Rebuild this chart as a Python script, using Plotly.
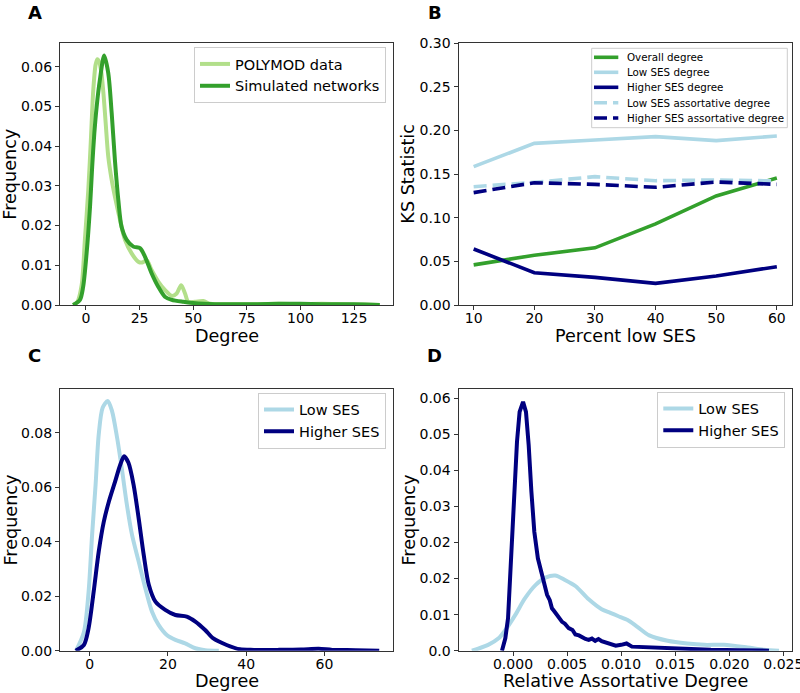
import plotly.graph_objects as go

W, H = 800, 693

# ---------------- Data ----------------
# Panel A: degree distributions (KDE curves)
a_polymod_x = [-6, -4, -2, -0.5, 1.1, 2.3, 3.4, 4.5, 5.3, 6.2, 7.2, 8.2, 9.2, 10.4, 12.0, 13.5, 15.9, 18.2,
               21.3, 24.4, 26.3, 28.3, 30.6, 33.7, 36.8, 40.0, 42.3, 44.4, 46.2, 47.7, 50.8, 54.7, 57.8,
               62, 70, 80, 90, 100, 110, 120, 130, 137]
a_polymod_y = [0, 0.0008, 0.005, 0.0164, 0.029, 0.0416, 0.054, 0.0605, 0.0619, 0.0612, 0.0585, 0.053,
               0.0458, 0.0374, 0.0315, 0.0273, 0.0214, 0.0164, 0.013, 0.0109, 0.0107, 0.0113, 0.0088,
               0.0059, 0.0038, 0.0023, 0.0029, 0.005, 0.0029, 0.0008, 0.0008, 0.001, 0.0003, 0.0002,
               0.0002, 0.0002, 0.0003, 0.0002, 0.0003, 0.0002, 0.0001, 0]
a_sim_x = [-6, -2.8, -1.3, 0.3, 1.9, 2.9, 3.9, 5.0, 6.5, 8.5, 10.4, 12.0, 13.5, 15.1, 16.6, 19.0, 22.1,
           25.2, 27.5, 30.6, 33.7, 36.8, 40, 45.4, 50, 55, 60, 70, 80, 90, 100, 110, 120, 130, 137]
a_sim_y = [0, 0.0013, 0.0046, 0.013, 0.0248, 0.0348, 0.0432, 0.050, 0.0567, 0.0628, 0.0584, 0.0483,
           0.0365, 0.0264, 0.0197, 0.0164, 0.0147, 0.0143, 0.0122, 0.0080, 0.0046, 0.0021, 0.0013,
           0.0008, 0.0005, 0.0003, 0.0002, 0.0002, 0.0002, 0.0003, 0.0003, 0.0002, 0.0002, 0.0001, 0]

# Panel B: KS statistic vs percent low SES
b_pct = [10, 20, 30, 40, 50, 60]
b_overall = [0.046, 0.057, 0.0655, 0.093, 0.125, 0.1455]
b_low = [0.1586, 0.1853, 0.1892, 0.1930, 0.1884, 0.1937]
b_high = [0.0642, 0.037, 0.0317, 0.0248, 0.0332, 0.0439]
b_low_assort = [0.1356, 0.1406, 0.1471, 0.1425, 0.1433, 0.1422]
b_high_assort = [0.1288, 0.1402, 0.1383, 0.1349, 0.141, 0.1383]

# Panel C: degree by SES
c_low_x = [-3.5, -1.5, -0.3, 0.6, 1.5, 2.3, 3.3, 4.6, 5.7, 7.0, 8.3, 9.5, 10.8, 12.5, 14.2, 15.9, 17.6,
           19.7, 21.9, 24.4, 27, 29.5, 33]
c_low_y = [0, 0.0068, 0.0215, 0.0424, 0.061, 0.0794, 0.0892, 0.0917, 0.088, 0.0782, 0.0659, 0.0536,
           0.0426, 0.0328, 0.023, 0.0144, 0.0095, 0.0058, 0.004, 0.0027, 0.0009, 0.0002, 0]
c_high_x = [-3.6, -1.5, -0.3, 1.0, 2.3, 3.6, 4.9, 6.5, 7.8, 8.8, 9.9, 11.2, 12.5, 13.8, 15.1, 16.8, 19.3,
            21.9, 24.8, 27, 29.5, 31.6, 35, 38.4, 42, 48, 54, 58.5, 62, 68, 74]
c_high_y = [0, 0.0021, 0.0082, 0.0216, 0.0364, 0.0474, 0.0548, 0.0622, 0.0683, 0.0714, 0.069, 0.061,
            0.0487, 0.0352, 0.0242, 0.018, 0.015, 0.0131, 0.0125, 0.0107, 0.0076, 0.0045, 0.0021,
            0.0005, 0.0003, 0.0003, 0.0004, 0.0007, 0.0003, 0.0002, 0]

# Panel D: relative assortative degree by SES
d_low_x = [-0.0038, -0.0023, -0.0013, -0.0007, 0.0002, 0.0011, 0.0021, 0.003, 0.0039, 0.0048, 0.0058,
           0.007, 0.0082, 0.009, 0.0097, 0.0106, 0.0115, 0.0126, 0.0143, 0.0161, 0.0177, 0.0195, 0.0217,
           0.0232, 0.0246]
d_low_y = [0, 0.0013, 0.0028, 0.0046, 0.0079, 0.0116, 0.0146, 0.0162, 0.0167, 0.0157, 0.0143, 0.0114,
           0.0092, 0.0084, 0.0077, 0.0068, 0.0053, 0.0034, 0.0022, 0.0016, 0.0013, 0.0013, 0.0007,
           0.0002, 0]
d_high_x = [-0.00102, -0.00071, -0.00046, -0.00031, -0.0001, 0.00015, 0.00037, 0.00061, 0.00093, 0.0012,
            0.00145, 0.0017, 0.00197, 0.0023, 0.00268, 0.00295, 0.00315, 0.0034, 0.0036, 0.0038, 0.00407,
            0.0043, 0.00454, 0.0048, 0.00515, 0.0055, 0.00577, 0.0061, 0.00639, 0.0067, 0.007, 0.0073,
            0.0076, 0.0079, 0.0082, 0.00885, 0.0095, 0.0100, 0.0105, 0.0110, 0.0118, 0.0126, 0.0136,
            0.0152, 0.0168, 0.0183, 0.0210, 0.02367]
d_high_y = [0, 0.00275, 0.0072, 0.0146, 0.0257, 0.0368, 0.0464, 0.053, 0.0552, 0.053, 0.0456, 0.0353,
            0.0264, 0.0205, 0.0168, 0.0148, 0.0124, 0.0112, 0.0094, 0.0088, 0.0079, 0.0070, 0.0064,
            0.0060, 0.005, 0.0046, 0.0036, 0.0034, 0.0029, 0.0026, 0.0024, 0.0027, 0.0022, 0.0026,
            0.0021, 0.0016, 0.0011, 0.0013, 0.0016, 0.0009, 0.0008, 0.0007, 0.0006, 0.0004, 0.0003,
            0.0002, 0.0001, 0]

# tick labels
a_xticks = [0, 25, 50, 75, 100, 125]
a_yticks = [0, 0.01, 0.02, 0.03, 0.04, 0.05, 0.06]
b_yticks = [0, 0.05, 0.10, 0.15, 0.20, 0.25, 0.30]
c_xticks = [0, 20, 40, 60]
c_yticks = [0, 0.02, 0.04, 0.06, 0.08]
d_xticks = [0, 0.005, 0.010, 0.015, 0.020, 0.025]
d_yticks = [0, 0.008, 0.016, 0.024, 0.032, 0.040, 0.048, 0.056]
d_yticklabels = ['0.0', '0.01', '0.02', '0.02', '0.03', '0.04', '0.05', '0.06']

# colours
LIGHT_GREEN = '#b2df8a'
GREEN = '#33a02c'
LIGHT_BLUE = '#add8e6'
NAVY = '#000080'

FONT = 'DejaVu Sans'


def px(x):
    """pixel x -> paper fraction"""
    return x / W


def py(y):
    """pixel y (from top) -> paper fraction"""
    return 1 - y / H


fig = go.Figure()

# Panel A
fig.add_trace(go.Scatter(x=a_polymod_x, y=a_polymod_y, mode='lines', name='POLYMOD data',
                         line=dict(color=LIGHT_GREEN, width=4, shape='spline', smoothing=0.8),
                         xaxis='x', yaxis='y', legend='legend'))
fig.add_trace(go.Scatter(x=a_sim_x, y=a_sim_y, mode='lines', name='Simulated networks',
                         line=dict(color=GREEN, width=4, shape='spline', smoothing=0.8),
                         xaxis='x', yaxis='y', legend='legend'))

# Panel B
b_series = [
    ('Overall degree', b_overall, GREEN, 'solid'),
    ('Low SES degree', b_low, LIGHT_BLUE, 'solid'),
    ('Higher SES degree', b_high, NAVY, 'solid'),
    ('Low SES assortative degree', b_low_assort, LIGHT_BLUE, '13px,6px'),
    ('Higher SES assortative degree', b_high_assort, NAVY, '13px,6px'),
]
for name, vals, col, dash in b_series:
    fig.add_trace(go.Scatter(x=b_pct, y=vals, mode='lines', name=name,
                             line=dict(color=col, width=3.6, dash=dash),
                             xaxis='x2', yaxis='y2', showlegend=False))

# Panel C
fig.add_trace(go.Scatter(x=c_low_x, y=c_low_y, mode='lines', name='Low SES',
                         line=dict(color=LIGHT_BLUE, width=4, shape='spline', smoothing=0.8),
                         xaxis='x3', yaxis='y3', legend='legend3'))
fig.add_trace(go.Scatter(x=c_high_x, y=c_high_y, mode='lines', name='Higher SES',
                         line=dict(color=NAVY, width=4, shape='spline', smoothing=0.8),
                         xaxis='x3', yaxis='y3', legend='legend3'))

# Panel D
fig.add_trace(go.Scatter(x=d_low_x, y=d_low_y, mode='lines', name='Low SES',
                         line=dict(color=LIGHT_BLUE, width=4, shape='spline', smoothing=0.8),
                         xaxis='x4', yaxis='y4', legend='legend4'))
fig.add_trace(go.Scatter(x=d_high_x, y=d_high_y, mode='lines', name='Higher SES',
                         line=dict(color=NAVY, width=4),
                         xaxis='x4', yaxis='y4', legend='legend4'))

axis_common = dict(showline=True, linecolor='#333333', linewidth=1, mirror=True,
                   ticks='outside', ticklen=4, tickwidth=1, tickcolor='#333333',
                   showgrid=False, zeroline=False, automargin=False,
                   tickfont=dict(family=FONT, size=14, color='black'))
xaxis_extra = dict(ticklabelstandoff=-4, ticklabeloverflow='allow')

left_dom = [px(60), px(393.3)]
right_dom = [px(458.5), px(792)]
top_dom = [py(305), py(43.3)]
bot_dom = [py(650.7), py(389.3)]

legend_common = dict(bgcolor='rgba(255,255,255,0.8)', bordercolor='#cccccc', borderwidth=1,
                     font=dict(family=FONT, size=14.5, color='black'),
                     xanchor='right', yanchor='top')

fig.update_layout(
    width=W, height=H, autosize=False,
    margin=dict(l=0, r=0, t=0, b=0),
    paper_bgcolor='white', plot_bgcolor='white',
    font=dict(family=FONT, color='black'),
    xaxis=dict(domain=left_dom, anchor='y', range=[-12.1, 143.3], tickvals=a_xticks,
               **axis_common, **xaxis_extra),
    yaxis=dict(domain=top_dom, anchor='x', range=[0, 0.0659], tickvals=a_yticks, tickformat='.2f',
               **axis_common),
    xaxis2=dict(domain=right_dom, anchor='y2', range=[7.5, 62.5], tickvals=b_pct,
                **axis_common, **xaxis_extra),
    yaxis2=dict(domain=top_dom, anchor='x2', range=[0, 0.30], tickvals=b_yticks, tickformat='.2f',
                **axis_common),
    xaxis3=dict(domain=left_dom, anchor='y3', range=[-7.6, 77.6], tickvals=c_xticks,
                **axis_common, **xaxis_extra),
    yaxis3=dict(domain=bot_dom, anchor='x3', range=[0, 0.096], tickvals=c_yticks, tickformat='.2f',
                **axis_common),
    xaxis4=dict(domain=right_dom, anchor='y4', range=[-0.00504, 0.0258], tickvals=d_xticks,
                tickformat='.3f', **axis_common, **xaxis_extra),
    yaxis4=dict(domain=bot_dom, anchor='x4', range=[0, 0.058], tickvals=d_yticks,
                ticktext=d_yticklabels, **axis_common),
    legend=dict(x=px(386), y=py(47), **legend_common),
    legend3=dict(x=px(386), y=py(392.5), **legend_common),
    legend4=dict(x=px(785.3), y=py(391.5), **legend_common),
    showlegend=True,
)

annotations = []
TITLE_SIZE = 17.6


def add_text(text, x, y, size, angle=0, bold=False, xanchor='center'):
    annotations.append(dict(text=('<b>%s</b>' % text) if bold else text, x=px(x), y=py(y),
                            xref='paper', yref='paper', showarrow=False, textangle=angle,
                            xanchor=xanchor, yanchor='middle',
                            font=dict(family=FONT, size=size, color='black')))


# panel letters
add_text('A', 34.7, 12.5, 18, bold=True)
add_text('B', 434.5, 12.5, 18, bold=True)
add_text('C', 34.2, 355.8, 18, bold=True)
add_text('D', 434.5, 355.5, 18, bold=True)

# axis titles
add_text('Degree', (60 + 393.3) / 2, 336, TITLE_SIZE)
add_text('Percent low SES', (458.5 + 792) / 2, 336, TITLE_SIZE)
add_text('Degree', (60 + 393.3) / 2, 681, TITLE_SIZE)
add_text('Relative Assortative Degree', (458.5 + 792) / 2, 681, TITLE_SIZE)
add_text('Frequency', 10.5, (43.3 + 305) / 2, TITLE_SIZE, angle=-90)
add_text('KS Statistic', 408.5, (43.3 + 305) / 2, TITLE_SIZE, angle=-90)
add_text('Frequency', 10.5, (389.3 + 650.7) / 2, TITLE_SIZE, angle=-90)
add_text('Frequency', 408.5, (389.3 + 650.7) / 2, TITLE_SIZE, angle=-90)

# Panel B legend (compact key box)
shapes = [dict(type='rect', xref='paper', yref='paper', x0=px(591.7), x1=px(787.3),
               y0=py(127.7), y1=py(48.3), line=dict(color='#cccccc', width=1),
               fillcolor='rgba(255,255,255,0.8)', layer='above')]
row_y = [57.3, 72.3, 87.3, 102.7, 118.0]
for (name, vals, col, dash), ry in zip(b_series, row_y):
    shapes.append(dict(type='line', xref='paper', yref='paper', x0=px(594), x1=px(618.3),
                       y0=py(ry), y1=py(ry), line=dict(color=col, width=3.6, dash=dash),
                       layer='above'))
    add_text(name, 625.3, ry, 10.3, xanchor='left')

fig.update_layout(annotations=annotations, shapes=shapes)

# remove the default page margin so the figure sits at the window's corner
fig.write_html('out.html', config={'displayModeBar': False},
               post_script="document.body.style.margin='0px';")
